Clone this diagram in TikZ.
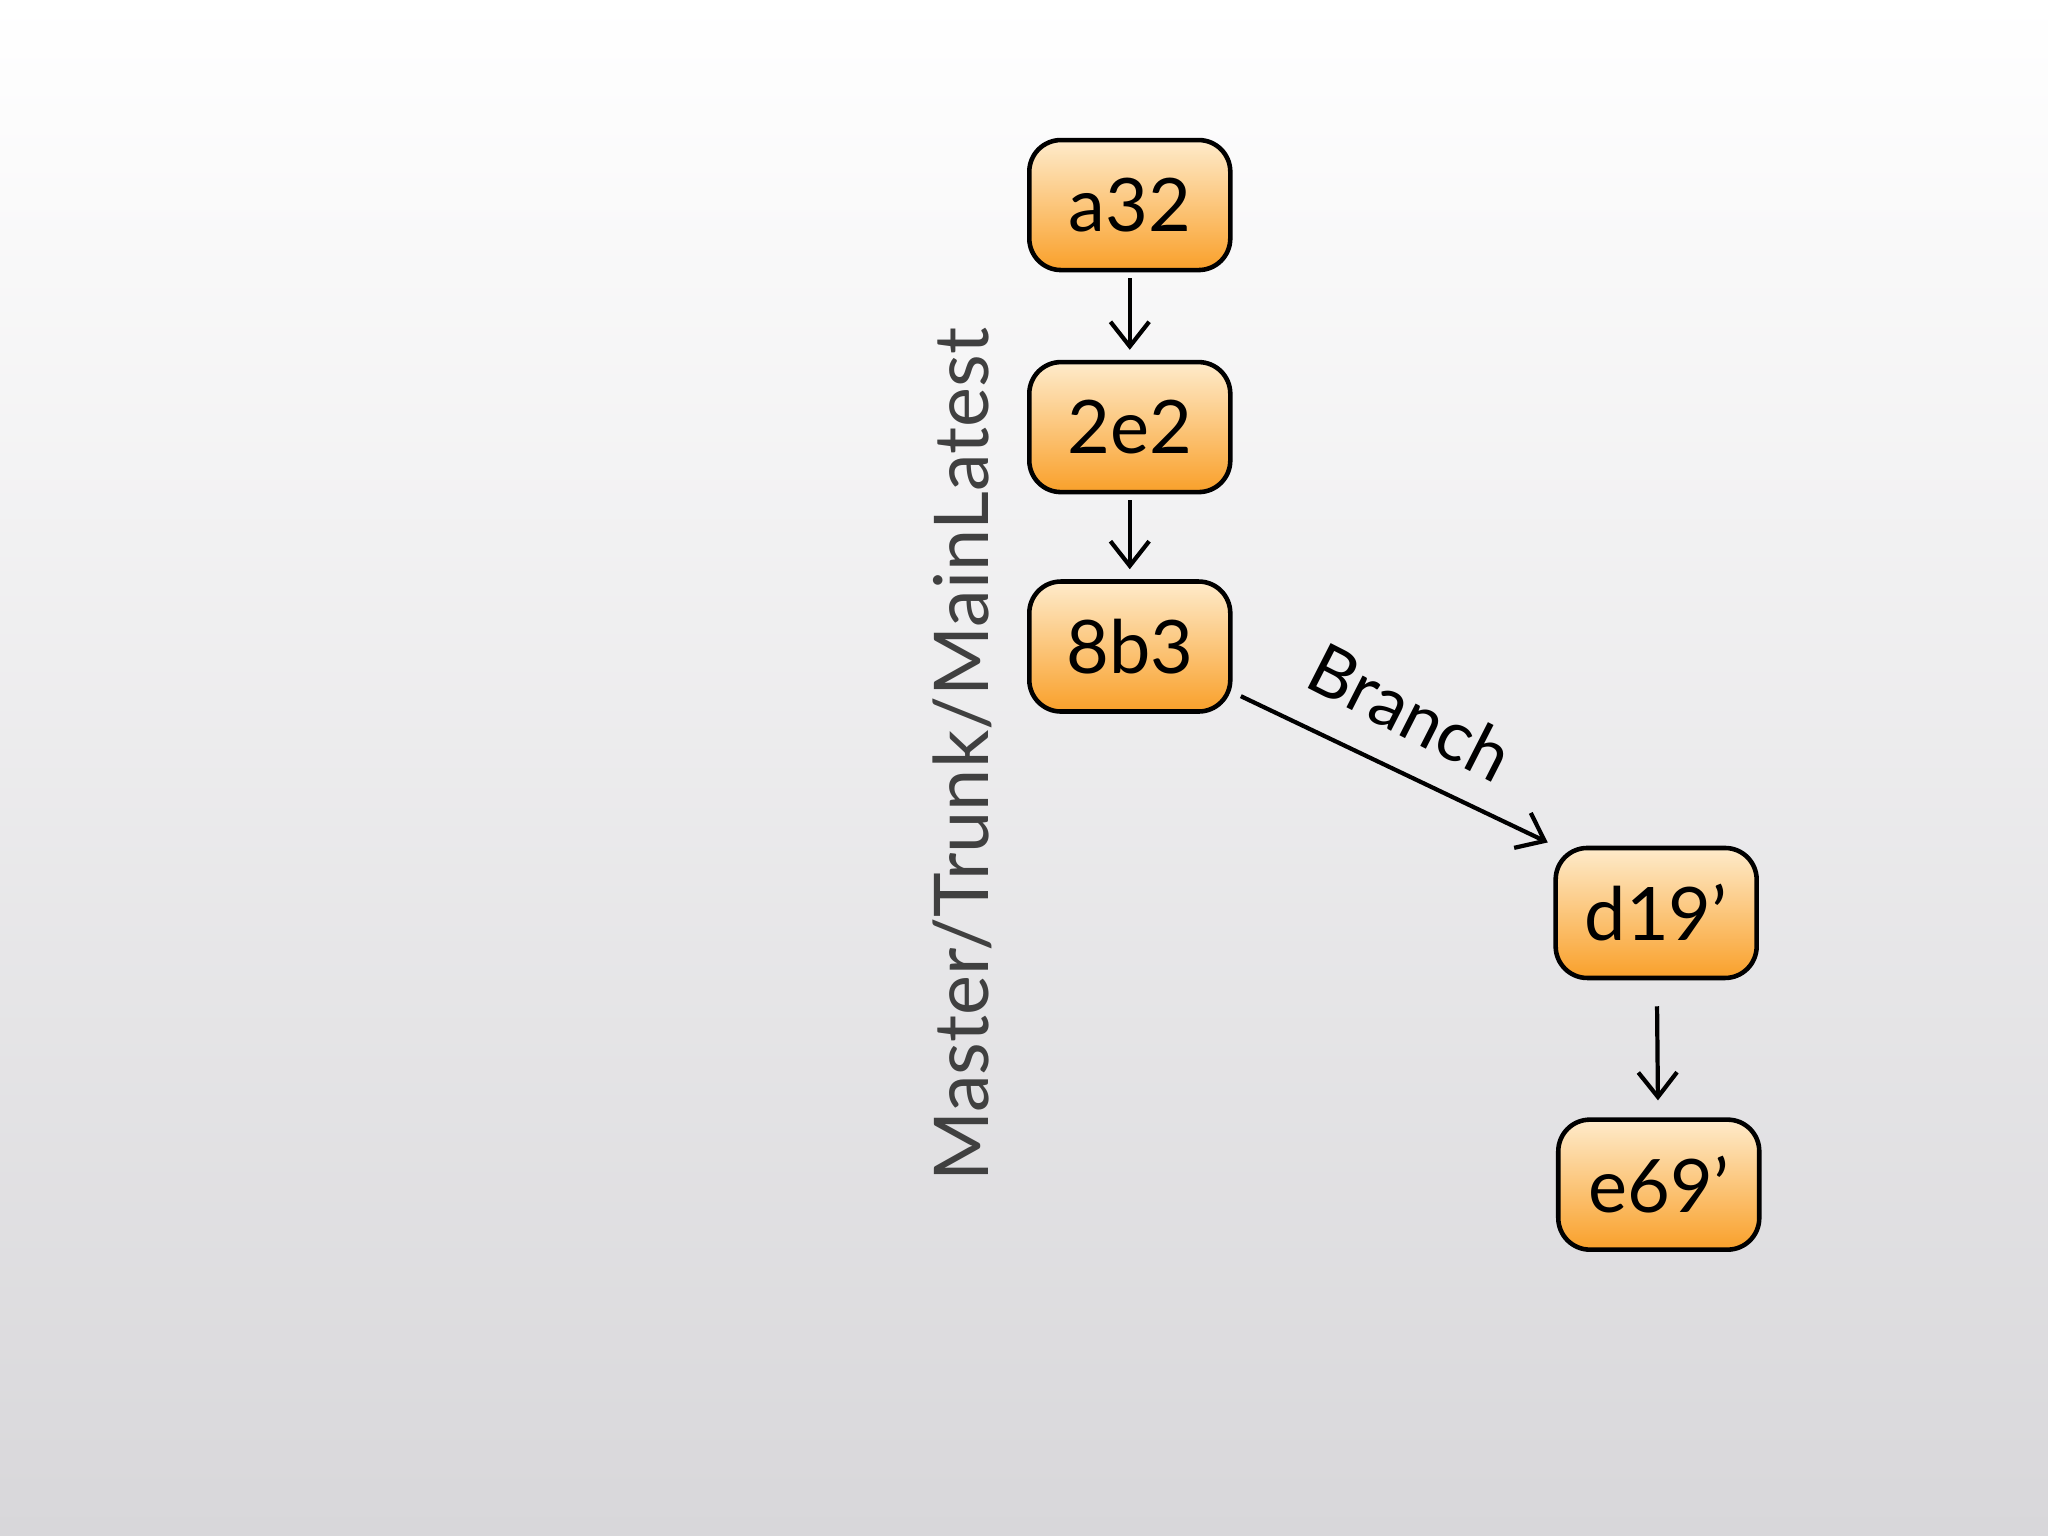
\documentclass[tikz,border=0pt]{standalone}
\usepackage{fontspec}
\setmainfont{Lato}
\usetikzlibrary{arrows.meta}
\definecolor{bgbot}{HTML}{D8D7DA}
\definecolor{otop}{HTML}{FEEBCB}
\definecolor{obot}{HTML}{F9A02A}
\begin{document}
\begin{tikzpicture}[x=0.01306cm,y=-0.01306cm,
  commit/.style={draw=black,line width=1.3pt,rounded corners=9pt,minimum width=2.01cm,minimum height=1.3cm,top color=otop,bottom color=obot,font=\fontsize{21}{24}\selectfont},
  arr/.style={line width=1.2pt,shorten <=0.06cm,shorten >=0.1cm,-{Straight Barb[length=7pt,width=11pt,line width=1.2pt]}}]
\shade[top color=white,bottom color=bgbot] (0,0) rectangle (1568,1176);
\useasboundingbox (0,0) rectangle (1568,1176);
\node[commit] (a) at (865,157) {a32};
\node[commit] (b) at (865,327) {2e2};
\node[commit] (c) at (865,495) {8b3};
\node[commit] (d) at (1268,699) {d19'};
\node[commit] (e) at (1270,907) {e69'};
\coordinate (s) at (950,533);
\coordinate (t) at (1185,645);
\draw[arr] (a) -- (b);
\draw[arr] (b) -- (c);
\draw[line width=1.2pt,-{Straight Barb[length=7pt,width=11pt,line width=1.2pt]}] (s) -- (t);
\draw[arr,shorten <=0.26cm,shorten >=0.17cm] (d) -- (e);
\node[rotate=90,text=black!75,font=\fontsize{21.5}{24}\selectfont] (m) at (737,578) {Master/Trunk/MainLatest};
\node[rotate=-27,font=\fontsize{20}{24}\selectfont] (br) at (1080,545) {Branch};
\end{tikzpicture}
\end{document}
